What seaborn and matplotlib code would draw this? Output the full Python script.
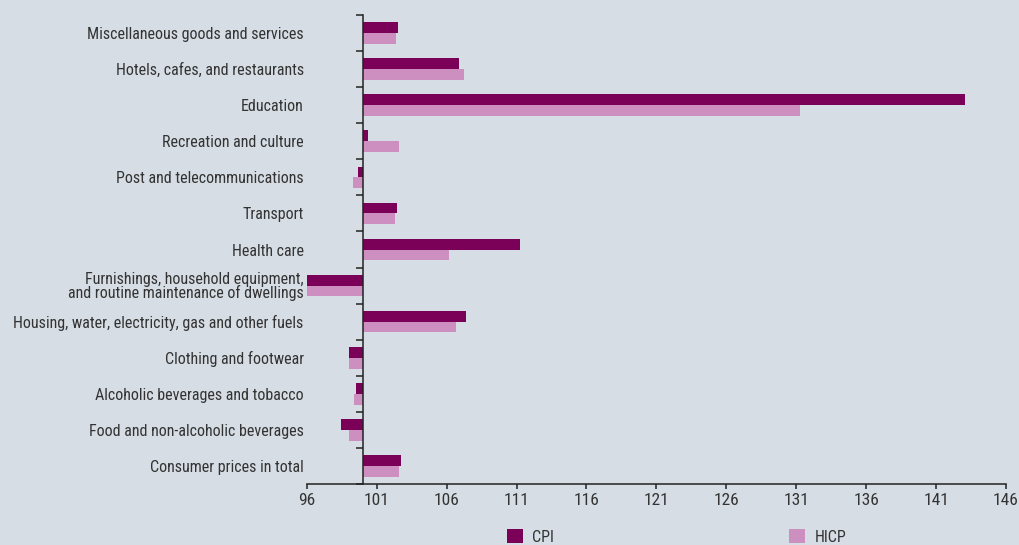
import matplotlib
matplotlib.use("Agg")
import matplotlib.pyplot as plt
from matplotlib import font_manager
from matplotlib.patches import Patch
from matplotlib.ticker import FuncFormatter, FixedLocator
import numpy as np
import pandas as pd
import seaborn as sns

BASE = 100

CATEGORIES = [
    "Miscellaneous goods and services",
    "Hotels, cafes, and restaurants",
    "Education",
    "Recreation and culture",
    "Post and telecommunications",
    "Transport",
    "Health care",
    "Furnishings, household equipment,\nand routine maintenance of dwellings",
    "Housing, water, electricity, gas and other fuels",
    "Clothing and footwear",
    "Alcoholic beverages and tobacco",
    "Food and non-alcoholic beverages",
    "Consumer prices in total",
]
CPI = [102.5, 106.9, 143.1, 100.4, 99.7, 102.45, 111.25, 96.0, 107.4, 99.0, 99.5, 98.45, 102.75]
HICP = [102.4, 107.25, 131.3, 102.6, 99.3, 102.3, 106.2, 96.0, 106.7, 99.0, 99.4, 99.0, 102.6]
SERIES = ["CPI", "HICP"]
COLORS = ["#7a0058", "#cc8fc0"]
X_TICKS = list(range(96, 147, 5))

BG = "#d6dde4"
TXT = "#333333"


def pick_narrow_font():
    # prefer a condensed face if one is installed
    names = sorted({f.name for f in font_manager.fontManager.ttflist})
    for want in ["Liberation Sans Narrow", "Roboto Condensed", "Open Sans Condensed",
                 "DejaVu Sans Condensed", "Noto Sans Condensed"]:
        if want in names:
            return want, "normal"
    for f in font_manager.fontManager.ttflist:
        if f.name == "DejaVu Sans" and f.stretch == "condensed":
            return "DejaVu Sans", "condensed"
    return "Liberation Sans", "normal"


sns.set_theme(style="white")
FONT, STRETCH = pick_narrow_font()
plt.rcParams["font.family"] = [FONT, "DejaVu Sans"]
plt.rcParams["font.stretch"] = STRETCH
narrow = FONT != "Liberation Sans"
LBL_SIZE = 11.5 if narrow else 10
TICK_SIZE = 12.5 if narrow else 11
LEG_SIZE = 11.5 if narrow else 10.5

df = pd.DataFrame({
    "category": CATEGORIES * 2,
    "series": ["CPI"] * len(CATEGORIES) + ["HICP"] * len(CATEGORIES),
    "value": CPI + HICP,
})
# bars are drawn from the 100 baseline
df["dev"] = df["value"] - BASE

fig = plt.figure(figsize=(10.2, 5.45), dpi=100, facecolor=BG)
ax = fig.add_axes([0.3007, 0.1119, 0.6856, 0.8606], facecolor=BG)

sns.barplot(data=df, y="category", x="dev", hue="series", order=CATEGORIES,
            hue_order=SERIES, palette=COLORS, width=0.6, gap=0,
            orient="h", saturation=1, legend=False, linewidth=0, ax=ax)

ax.set_xlim(X_TICKS[0] - BASE, X_TICKS[-1] - BASE)
ax.set_ylim(len(CATEGORIES) - 0.5, -0.5)
ax.xaxis.set_major_locator(FixedLocator([t - BASE for t in X_TICKS]))
ax.xaxis.set_major_formatter(FuncFormatter(lambda v, _: f"{v + BASE:.0f}"))
ax.set_xlabel("")
ax.set_ylabel("")

for s in ["top", "right"]:
    ax.spines[s].set_visible(False)
ax.spines["left"].set_position(("data", 0))
for s in ["left", "bottom"]:
    ax.spines[s].set_color("#222222")
    ax.spines[s].set_linewidth(1.1)

ax.tick_params(axis="x", which="major", direction="out", length=3.8, width=1.1,
               color="#222222", labelsize=TICK_SIZE, labelcolor=TXT, pad=3, bottom=True)
ax.tick_params(axis="y", which="major", length=0, pad=42.5, labelsize=LBL_SIZE,
               labelcolor=TXT)
ax.yaxis.set_minor_locator(FixedLocator(np.arange(-0.5, len(CATEGORIES), 1.0)))
ax.tick_params(axis="y", which="minor", direction="out", length=5, width=1.1,
               color="#222222", left=True)
for lab in ax.get_yticklabels():
    lab.set_linespacing(0.85)

handles = [Patch(facecolor=c, edgecolor="none") for c in COLORS]
fig.legend(handles, SERIES, loc="upper left", bbox_to_anchor=(0.497, 0.029),
           ncol=2, frameon=False, fontsize=LEG_SIZE, handlelength=1.0,
           handleheight=1.0, handletextpad=0.6, columnspacing=14.7,
           labelcolor=TXT, borderaxespad=0, borderpad=0)

fig.savefig("out.png", dpi=100, facecolor=BG)
